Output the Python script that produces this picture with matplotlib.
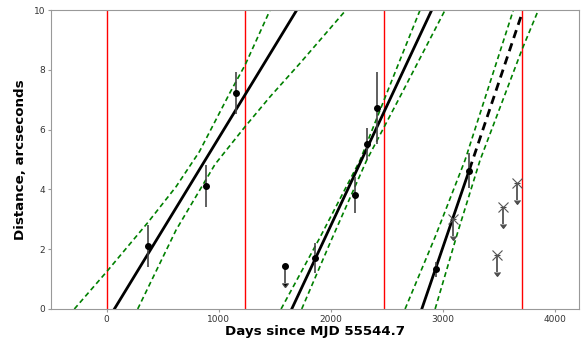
import matplotlib
matplotlib.use("Agg")
import matplotlib.pyplot as plt

# measured separations (days since MJD 55544.7, arcsec)
det_t = [371, 886, 1153, 1858, 2215, 2319, 2409, 2938, 3235]
det_d = [2.12, 4.12, 7.23, 1.72, 3.82, 5.52, 6.73, 1.33, 4.63]
det_err = [0.7, 0.7, 0.7, 0.5, 0.6, 0.55, 1.2, 0.25, 0.58]

# upper limits
lim_dot_t = [1591]
lim_dot_d = [1.44]
lim_x_t = [3087, 3479, 3533, 3663]
lim_x_d = [3.0, 1.81, 3.42, 4.20]
lim_len = 0.57

# epochs of passage (red lines)
epochs = [0, 1236, 2470, 3706]

# fitted tracks
fit1_t = [68, 1695]
fit1_d = [0, 10]
fit2_t = [1650, 2899]
fit2_d = [0, 10]
fit3_t = [2810, 3235]
fit3_d = [0, 4.66]
pred3_t = [3235, 3705]
pred3_d = [4.66, 9.9]

# confidence bands
up1_t = [-289, 0, 366, 618, 826, 1101, 1234, 1457]
up1_d = [0, 1.25, 2.89, 4.09, 5.26, 7.25, 8.16, 10]
lo1_t = [276, 618, 966, 1234, 1457, 1724, 2134]
lo1_d = [0, 2.64, 4.84, 6.1, 7.1, 8.22, 10]
up2_t = [1555, 1900, 2260, 2616, 2795]
up2_d = [0, 2.38, 4.98, 8.33, 10]
lo2_t = [1739, 2000, 2319, 2616, 3018]
lo2_d = [0, 2.28, 4.98, 7.10, 10]
up3_t = [2661, 2930, 3196, 3627]
up3_d = [0, 2.42, 4.98, 10]
lo3_t = [2929, 3130, 3330, 3702, 3850]
lo3_d = [0, 2.56, 4.98, 8.66, 10]

fig = plt.figure(figsize=(5.84, 3.39), dpi=100)
ax = fig.add_axes([0.0868, 0.0885, 0.9042, 0.882])

for e in epochs:
    ax.axvline(e, color='red', lw=1)

for t, d in [(up1_t, up1_d), (lo1_t, lo1_d), (up2_t, up2_d),
             (lo2_t, lo2_d), (up3_t, up3_d), (lo3_t, lo3_d)]:
    ax.plot(t, d, color='green', ls='--', lw=1.2, dashes=(3, 2))

ax.plot(fit1_t, fit1_d, color='black', lw=2)
ax.plot(fit2_t, fit2_d, color='black', lw=2)
ax.plot(fit3_t, fit3_d, color='black', lw=2)
ax.plot(pred3_t, pred3_d, color='black', lw=2, ls='--', dashes=(3, 2))

ax.errorbar(det_t, det_d, yerr=det_err, fmt='o', color='black', ms=4,
            ecolor='#444444', elinewidth=1.2)
ax.errorbar(lim_dot_t, lim_dot_d, yerr=lim_len, uplims=True, fmt='o',
            color='black', ms=4, ecolor='#444444', elinewidth=1.2, capsize=2)
ax.errorbar(lim_x_t, lim_x_d, yerr=lim_len, uplims=True, fmt='x',
            color='#555555', ms=7, mew=0.8, ecolor='#444444', elinewidth=1.2,
            capsize=2)

ax.set_xlim(-500, 4210)
ax.set_ylim(0, 10)
ax.set_xticks([0, 1000, 2000, 3000, 4000])
ax.set_yticks([0, 2, 4, 6, 8, 10])
for s in ax.spines.values():
    s.set_color('0.6')
ax.tick_params(labelsize=6.5, length=2, pad=2, color='0.6', labelcolor='0.2')
ax.set_xlabel('Days since MJD 55544.7', fontsize=9.6, fontweight='bold')
ax.xaxis.set_label_coords(0.5, -0.052)
ax.set_ylabel('Distance, arcseconds', fontsize=9.6, fontweight='bold', labelpad=5)

fig.savefig('out.png', dpi=100)
